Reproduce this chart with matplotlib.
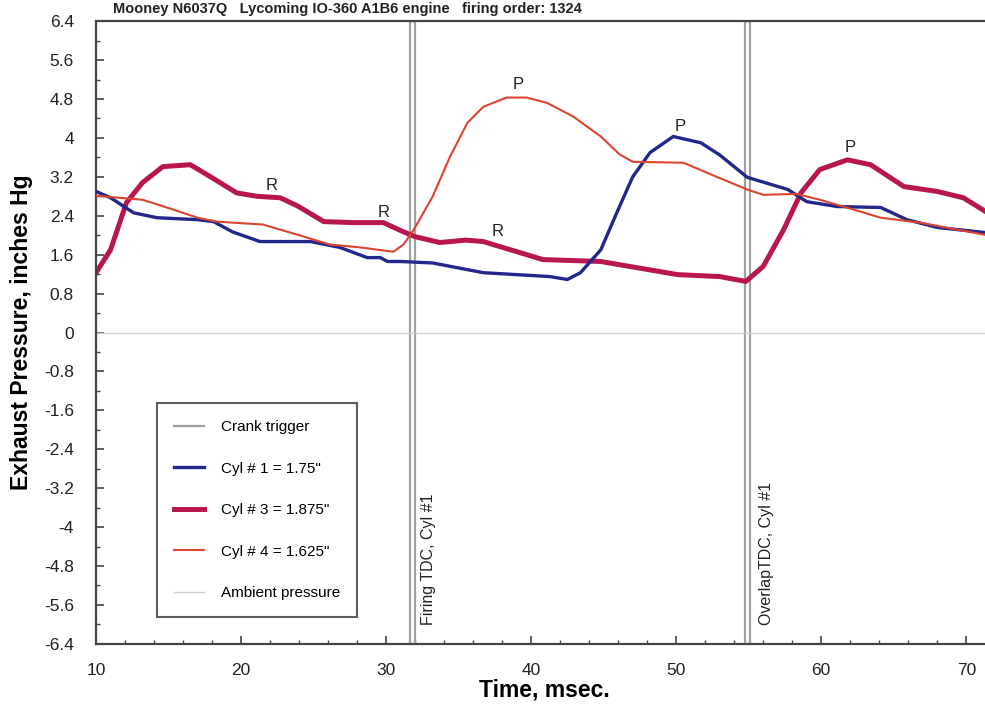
import matplotlib
matplotlib.use("Agg")
import matplotlib.pyplot as plt
from matplotlib.ticker import MultipleLocator

plt.rcParams['font.family'] = ['Liberation Sans', 'DejaVu Sans']

# Cyl #1 (blue)
t1 = [10.0, 11.0, 12.6, 14.2, 17.0, 18.1, 19.4, 21.3, 24.8, 26.8, 28.7, 29.6, 30.1, 31.0, 33.2,
      36.7, 41.3, 42.5, 43.4, 44.8, 45.9, 47.0, 48.2, 49.8, 51.7, 53.0, 54.9, 57.7, 59.0, 61.1,
      64.1, 65.9, 68.0, 71.8]
v1 = [2.9, 2.77, 2.46, 2.36, 2.32, 2.28, 2.07, 1.87, 1.87, 1.75, 1.54, 1.54, 1.46, 1.46, 1.43,
      1.23, 1.15, 1.09, 1.23, 1.7, 2.46, 3.2, 3.7, 4.03, 3.9, 3.65, 3.19, 2.94, 2.69, 2.59,
      2.57, 2.32, 2.16, 2.04]

# Cyl #3 (crimson)
t3 = [10.0, 11.0, 12.1, 13.2, 14.6, 16.5, 17.9, 19.7, 21.1, 22.7, 23.9, 25.7, 27.7, 29.8, 31.2,
      32.0, 33.7, 35.5, 36.7, 40.8, 44.8, 50.1, 53.0, 54.8, 56.0, 57.4, 58.6, 59.9, 61.8, 63.4,
      65.7, 68.0, 69.8, 71.8]
v3 = [1.23, 1.7, 2.67, 3.08, 3.41, 3.45, 3.2, 2.87, 2.8, 2.77, 2.6, 2.28, 2.26, 2.26, 2.07,
      1.97, 1.85, 1.9, 1.87, 1.5, 1.46, 1.19, 1.15, 1.05, 1.36, 2.11, 2.87, 3.35, 3.55, 3.45,
      3.0, 2.9, 2.77, 2.4]

# Cyl #4 (red)
t4 = [10.0, 13.2, 15.3, 17.0, 18.3, 21.5, 23.9, 26.1, 28.2, 30.5, 31.2, 31.9, 33.2, 34.4, 35.6,
      36.7, 38.3, 39.7, 41.1, 42.9, 44.8, 46.1, 47.0, 50.5, 52.8, 54.9, 56.0, 58.3, 59.9, 62.2,
      64.1, 66.8, 71.8]
v4 = [2.81, 2.73, 2.53, 2.36, 2.28, 2.22, 2.01, 1.81, 1.75, 1.66, 1.81, 2.11, 2.79, 3.61, 4.31,
      4.64, 4.83, 4.83, 4.72, 4.44, 4.03, 3.66, 3.51, 3.49, 3.2, 2.94, 2.83, 2.85, 2.73, 2.53,
      2.36, 2.26, 1.98]

# crank trigger pulses
crank_t = [10.0, 31.65, 31.65, 32.0, 32.0, 54.75, 54.75, 55.1, 55.1, 71.8]
crank_v = [-7, -7, 7, 7, -7, -7, 7, 7, -7, -7]

ambient_t = [10.0, 71.8]
ambient_v = [0.0, 0.0]

r_labels = [(22.1, 3.02), (29.8, 2.46), (37.7, 2.07)]
p_labels = [(39.1, 5.09), (50.3, 4.23), (62.0, 3.8)]

yticks = [6.4, 5.6, 4.8, 4, 3.2, 2.4, 1.6, 0.8, 0, -0.8, -1.6, -2.4, -3.2, -4, -4.8, -5.6, -6.4]

fig = plt.figure(figsize=(9.85, 7.06), dpi=100)
ax = fig.add_axes([0.0975, 0.088, 0.91, 0.882])

l0, = ax.plot(crank_t, crank_v, color='#a0a0a0', lw=1.6, label='Crank trigger')
l1, = ax.plot(t1, v1, color='#23268a', lw=2.4, label='Cyl # 1 = 1.75"')
l3, = ax.plot(t3, v3, color='#b8164e', lw=3.6, label='Cyl # 3 = 1.875"')
l4, = ax.plot(t4, v4, color='#dc4430', lw=1.5, label='Cyl # 4 = 1.625"')
la, = ax.plot(ambient_t, ambient_v, color='#d0d0d0', lw=1.0, label='Ambient pressure')
l4.set_zorder(4)
l1.set_zorder(3)
l3.set_zorder(2)

for x, y in r_labels:
    ax.text(x, y, 'R', fontsize=12, ha='center', va='center', color='#222222')
for x, y in p_labels:
    ax.text(x, y, 'P', fontsize=12, ha='center', va='center', color='#222222')

ax.text(32.95, -6.02, 'Firing TDC, Cyl #1', rotation=90, ha='center', va='bottom',
        fontsize=11.5, color='#222222')
ax.text(56.2, -6.02, 'OverlapTDC, Cyl #1', rotation=90, ha='center', va='bottom',
        fontsize=11.5, color='#222222')

ax.set_xlim(10, 71.8)
ax.set_ylim(-6.4, 6.4)
ax.set_yticks(yticks)
ax.set_yticklabels(['%g' % v for v in yticks])
ax.yaxis.set_minor_locator(MultipleLocator(0.4))
ax.xaxis.set_major_locator(MultipleLocator(10))
ax.xaxis.set_minor_locator(MultipleLocator(2))
ax.tick_params(which='both', direction='in', colors='#444444', labelcolor='#222222',
               labelsize=12.5)
ax.tick_params(which='major', length=6, width=1.2)
ax.tick_params(which='minor', length=3, width=1.0)
ax.tick_params(axis='x', pad=14)
ax.tick_params(axis='y', pad=16)
for s in ax.spines.values():
    s.set_color('#444444')
    s.set_linewidth(1.6)

ax.set_xlabel('Time, msec.', fontsize=16.5, fontweight='bold', labelpad=0)
ax.set_ylabel('Exhaust Pressure, inches Hg', fontsize=16.5, fontweight='bold', labelpad=8)

leg = ax.legend(handles=[l0, l1, l3, l4, la], loc='lower left', bbox_to_anchor=(0.068, 0.043),
                fontsize=11, frameon=True, fancybox=False, labelspacing=1.8,
                handlelength=2.0, borderpad=1.1, handletextpad=1.1, borderaxespad=0)
leg.get_frame().set_edgecolor('#333333')
leg.get_frame().set_linewidth(1.5)

fig.text(0.115, 1 - 9 / 706, 'Mooney N6037Q   Lycoming IO-360 A1B6 engine   firing order: 1324',
         fontsize=10.5, fontweight='bold', ha='left', va='center', color='#222222')

fig.savefig('out.png', dpi=100)
